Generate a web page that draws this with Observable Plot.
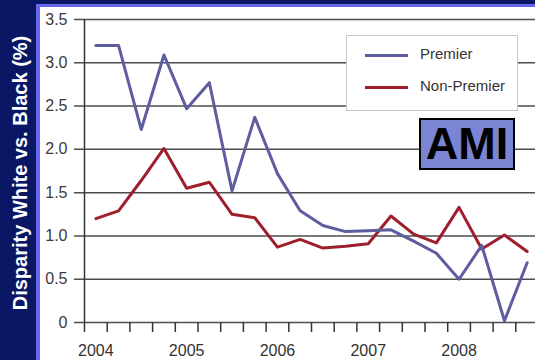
<!DOCTYPE html>
<html>
<head>
<meta charset="utf-8">
<script src="https://cdn.jsdelivr.net/npm/d3@7"></script>
<script src="https://cdn.jsdelivr.net/npm/@observablehq/plot@0.6"></script>
<style>
  html, body { margin: 0; padding: 0; }
  body { width: 535px; height: 360px; overflow: hidden; background: #0a1764; font-family: "Liberation Sans", Arial, sans-serif; }
  #stage { position: relative; width: 535px; height: 360px; }
  #panel { position: absolute; left: 36px; top: 4px; right: 0; bottom: 0; background: #fff;
           border-left: 4px solid #6767ee; border-top: 3px solid #6767ee; }
  #chart { position: absolute; left: 0; top: 0; }
  #legend { position: absolute; left: 346px; top: 35px; width: 170px; height: 74px; background: #fff; border: 1px solid #c8c8c8; }
  #legend .swatch { position: absolute; left: 18px; width: 43px; height: 3px; }
  #legend .name { position: absolute; left: 73px; font-size: 15px; line-height: 16px; color: #333; white-space: nowrap; }
  #tag { position: absolute; left: 419px; top: 118px; width: 92px; height: 48px; background: #7a86d4; border: 2px solid #000;
         font-size: 45px; font-weight: bold; line-height: 48px; text-align: center; color: #000; }
</style>
</head>
<body>
<div id="stage">
  <div id="panel"></div>
  <div id="chart"></div>
  <div id="legend"></div>
  <div id="tag">AMI</div>
</div>
<script>
// Quarterly white-vs-black disparity (%), 2004 Q1 through 2008 Q4
const years = ["2004", "2005", "2006", "2007", "2008"];
const premier = [3.20, 3.20, 2.23, 3.09, 2.47, 2.77, 1.52, 2.37, 1.72, 1.29,
                 1.12, 1.05, 1.06, 1.07, 0.94, 0.80, 0.50, 0.89, 0.02, 0.69];
const nonPremier = [1.20, 1.29, 1.64, 2.01, 1.55, 1.62, 1.25, 1.21, 0.87, 0.96,
                    0.86, 0.88, 0.91, 1.23, 1.02, 0.92, 1.33, 0.85, 1.01, 0.82];
const yTicks = [0, 0.5, 1.0, 1.5, 2.0, 2.5, 3.0, 3.5];
const seriesNames = ["Premier", "Non-Premier"];
const seriesColors = ["#5d5d9f", "#9e1f2c"];
const yLabel = "Disparity White vs. Black (%)";

const quartersPerYear = 4;
const quarterCount = years.length * quartersPerYear;
const mid = (d, i) => i + 0.5; // each value sits in the middle of its quarter

const chart = Plot.plot({
  width: 535,
  height: 360,
  marginLeft: 74,
  marginRight: 0,
  marginTop: 19,
  marginBottom: 38,
  style: { background: "transparent", fontFamily: "Liberation Sans, Arial, sans-serif" },
  x: { domain: [0, quarterCount], range: [84, 538], axis: null },
  y: { domain: [0, 3.5], axis: null },
  marks: [
    Plot.ruleY(yTicks, { stroke: "#4d4d4d", strokeWidth: 1.5 }),
    Plot.ruleX([0], { stroke: "#333", strokeWidth: 1.5 }),
    Plot.axisY({
      ticks: yTicks, tickSize: 0, tickPadding: 7, label: null,
      tickFormat: d => d === 0 ? "0" : d.toFixed(1),
      fontSize: 16, fill: "#3a3a3a"
    }),
    Plot.axisX({
      ticks: d3.range(0, quarterCount), tickSize: 10, tickFormat: () => "", label: null,
      stroke: "#333", strokeWidth: 1.5
    }),
    Plot.text(years, {
      x: (d, i) => i * quartersPerYear + 0.5, text: d => d,
      frameAnchor: "bottom", lineAnchor: "top", dy: 22, fontSize: 16, fill: "#333"
    }),
    Plot.line(nonPremier, { x: mid, y: d => d, stroke: seriesColors[1], strokeWidth: 3 }),
    Plot.line(premier, { x: mid, y: d => d, stroke: seriesColors[0], strokeWidth: 3 }),
    Plot.text([yLabel], {
      text: d => d, frameAnchor: "left", textAnchor: "middle", lineAnchor: "middle",
      rotate: -90, dx: -54, dy: 2, fill: "white", fontWeight: "bold", fontSize: 20
    })
  ]
});
document.getElementById("chart").append(chart);

// Legend entries
const legend = document.getElementById("legend");
seriesNames.forEach((name, i) => {
  const sw = document.createElement("div");
  sw.className = "swatch";
  sw.style.top = (18 + i * 32) + "px";
  sw.style.background = seriesColors[i];
  const lb = document.createElement("div");
  lb.className = "name";
  lb.style.top = (10 + i * 32) + "px";
  lb.textContent = name;
  legend.append(sw, lb);
});
</script>
</body>
</html>
